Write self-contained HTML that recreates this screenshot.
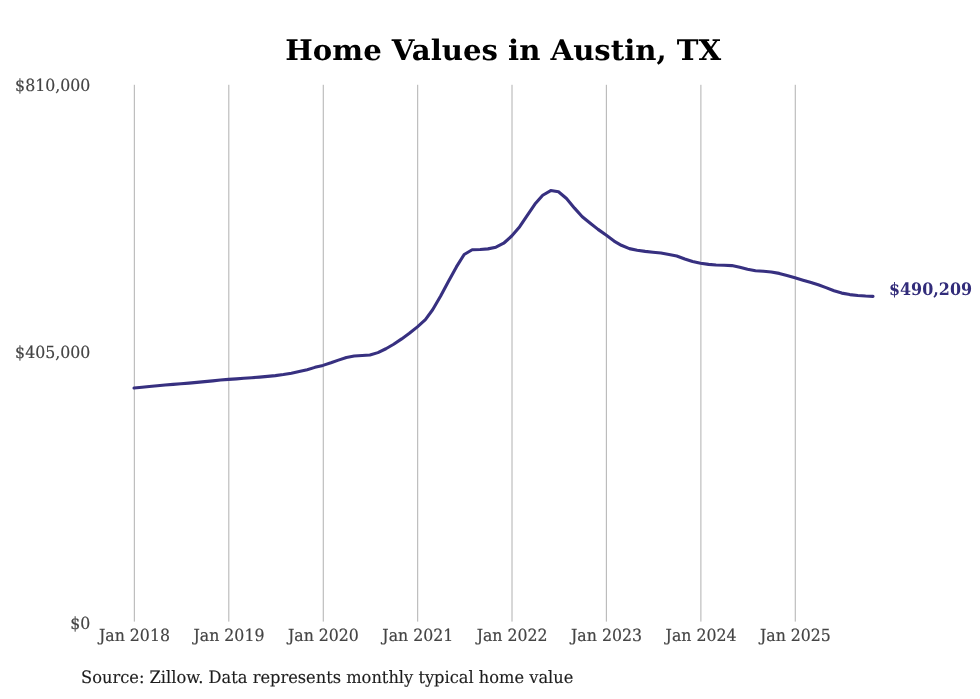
<!DOCTYPE html>
<html lang="en"><head><meta charset="utf-8"><title>Home Values in Austin, TX</title>
<style>
html,body{margin:0;padding:0;background:#fff;}
body{width:980px;height:699px;overflow:hidden;font-family:"DejaVu Serif","Liberation Serif",serif;}
svg{display:block;}
text{font-family:"DejaVu Serif","Liberation Serif",serif;text-rendering:geometricPrecision;}
.title{font-size:28.4px;font-weight:bold;fill:#000;}
.tick{font-size:16.8px;fill:#444;stroke:#444;stroke-width:0.2px;}
.src{font-size:17.05px;fill:#1c1c1c;stroke:#1c1c1c;stroke-width:0.15px;}
.val{font-size:17.05px;font-weight:bold;fill:#322c7a;}
.grid line{stroke:#b0b0b0;stroke-width:1.0;}
</style></head>
<body>
<svg width="980" height="699" viewBox="0 0 980 699">
<rect width="980" height="699" fill="#ffffff"/>
<g class="grid"><line x1="134.32" y1="84.8" x2="134.32" y2="621.6"/><line x1="228.82" y1="84.8" x2="228.82" y2="621.6"/><line x1="323.26" y1="84.8" x2="323.26" y2="621.6"/><line x1="417.70" y1="84.8" x2="417.70" y2="621.6"/><line x1="512.00" y1="84.8" x2="512.00" y2="621.6"/><line x1="606.35" y1="84.8" x2="606.35" y2="621.6"/><line x1="700.90" y1="84.8" x2="700.90" y2="621.6"/><line x1="795.26" y1="84.8" x2="795.26" y2="621.6"/></g>
<path d="M134.02,388.05 L142.05,387.31 L149.30,386.57 L157.32,385.73 L165.09,384.97 L173.11,384.37 L180.88,383.80 L188.91,383.12 L196.93,382.34 L204.70,381.62 L212.73,380.86 L220.49,380.02 L228.52,379.35 L236.54,378.87 L243.79,378.32 L251.81,377.68 L259.57,377.09 L267.59,376.41 L275.35,375.60 L283.37,374.53 L291.39,373.19 L299.16,371.55 L307.18,369.74 L314.94,367.36 L322.96,365.39 L330.96,362.83 L338.44,360.12 L346.44,357.42 L354.18,356.05 L362.18,355.49 L369.92,355.07 L377.92,352.61 L385.92,348.77 L393.66,344.27 L401.66,338.90 L409.40,333.33 L417.40,326.86 L425.41,319.59 L432.64,309.77 L440.65,296.02 L448.40,281.43 L456.41,266.89 L464.16,254.53 L472.17,249.79 L480.18,249.46 L487.93,248.88 L495.94,247.17 L503.69,243.24 L511.70,236.00 L519.71,226.65 L526.95,215.82 L534.96,204.01 L542.72,195.22 L550.73,190.59 L558.49,191.77 L566.50,198.55 L574.51,208.15 L582.27,216.79 L590.28,223.31 L598.04,229.37 L606.05,235.09 L614.08,241.09 L621.33,245.30 L629.36,248.63 L637.13,250.25 L645.17,251.34 L652.94,252.20 L660.97,253.06 L669.00,254.50 L676.77,256.01 L684.80,259.03 L692.57,261.52 L700.60,263.20 L708.59,264.35 L716.07,264.98 L724.06,265.22 L731.80,265.59 L739.79,267.36 L747.52,269.34 L755.51,270.70 L763.51,271.28 L771.24,271.97 L779.23,273.40 L786.97,275.47 L794.96,277.73 L802.98,280.18 L810.22,282.22 L818.24,284.78 L826.00,287.60 L834.02,290.79 L841.78,293.11 L849.80,294.59 L857.82,295.45 L865.58,296.02 L873.00,296.40" fill="none" stroke="#373080" stroke-width="3.1" stroke-linejoin="round" stroke-linecap="round"/>
<text class="title" transform="translate(503.20,60.45) scale(1.027,1)" text-anchor="middle">Home Values in Austin, TX</text>
<text class="tick" transform="translate(90.30,90.75) scale(0.9388,1)" text-anchor="end">$810,000</text>
<text class="tick" transform="translate(90.30,358.40) scale(0.9388,1)" text-anchor="end">$405,000</text>
<text class="tick" transform="translate(90.30,628.70) scale(0.9388,1)" text-anchor="end">$0</text>
<text class="tick" transform="translate(134.47,640.80) scale(0.9388,1)" text-anchor="middle">Jan 2018</text>
<text class="tick" transform="translate(228.97,640.80) scale(0.9388,1)" text-anchor="middle">Jan 2019</text>
<text class="tick" transform="translate(323.41,640.80) scale(0.9388,1)" text-anchor="middle">Jan 2020</text>
<text class="tick" transform="translate(417.85,640.80) scale(0.9388,1)" text-anchor="middle">Jan 2021</text>
<text class="tick" transform="translate(512.15,640.80) scale(0.9388,1)" text-anchor="middle">Jan 2022</text>
<text class="tick" transform="translate(606.50,640.80) scale(0.9388,1)" text-anchor="middle">Jan 2023</text>
<text class="tick" transform="translate(701.05,640.80) scale(0.9388,1)" text-anchor="middle">Jan 2024</text>
<text class="tick" transform="translate(795.41,640.80) scale(0.9388,1)" text-anchor="middle">Jan 2025</text>
<text class="val" transform="translate(888.90,295.30) scale(0.936,1)" text-anchor="start">$490,209</text>
<text class="src" transform="translate(81.10,683.40) scale(0.9538,1)" text-anchor="start">Source: Zillow. Data represents monthly typical home value</text>
</svg>
</body></html>
